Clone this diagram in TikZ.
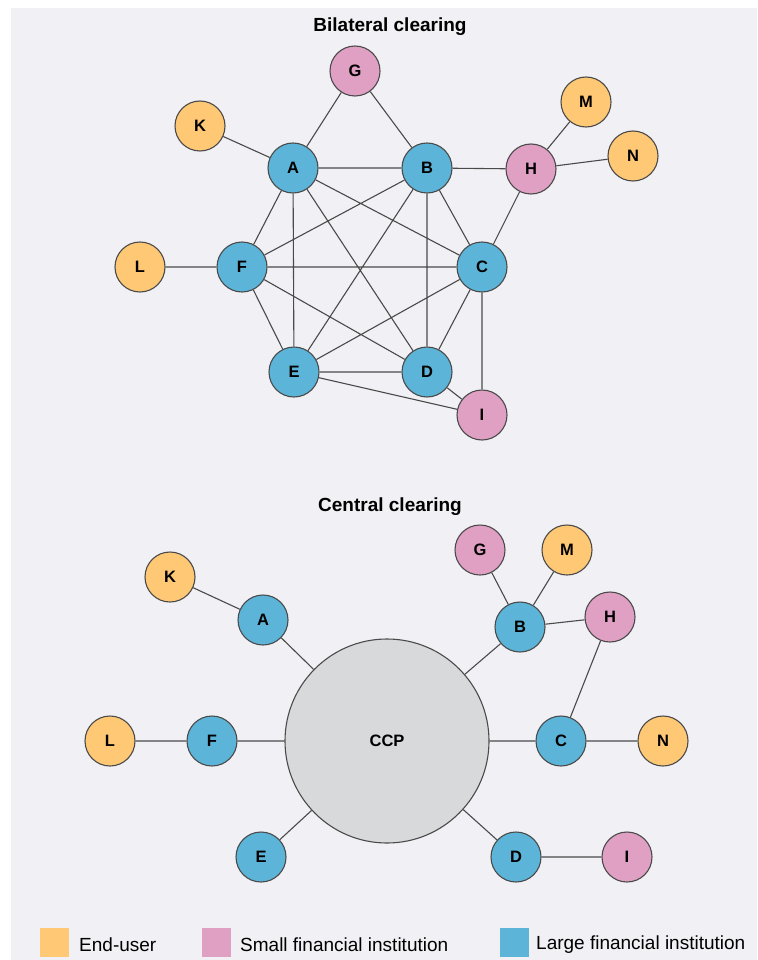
\documentclass[tikz,border=0pt]{standalone}
\usepackage{fontspec}
\setmainfont{Liberation Sans}
\definecolor{bgc}{HTML}{F1F0F5}
\definecolor{euc}{HTML}{FFC874}
\definecolor{sfc}{HTML}{E0A0C3}
\definecolor{lfc}{HTML}{5CB5D8}
\definecolor{ccpc}{HTML}{D7D9DA}
\definecolor{linec}{HTML}{4A4A4A}
\tikzset{
  nd/.style={circle, draw=linec, line width=1.1pt, minimum size=50pt, inner sep=0pt,
    font=\fontsize{16.5}{17}\selectfont\bfseries},
  eu/.style={nd, fill=euc},
  sfi/.style={nd, fill=sfc},
  lfi/.style={nd, fill=lfc},
  ccpnode/.style={nd, fill=ccpc, minimum size=204pt},
  edge/.style={draw=linec, line width=1.1pt},
  ttl/.style={font=\fontsize{19}{19}\selectfont\bfseries},
  legtxt/.style={font=\fontsize{19}{19}\selectfont, anchor=west, inner sep=0pt},
  legbox/.style={minimum size=29pt, inner sep=0pt, draw=none}
}
\begin{document}
\begin{tikzpicture}[x=1pt,y=-1pt]
\fill[white] (0,0) rectangle (757,960);
\useasboundingbox (0,0) rectangle (757,960);
\fill[bgc] (11,8) rectangle (757,960);

% ---------- Bilateral clearing ----------
\node[ttl] (t1) at (390,27) {Bilateral clearing};
\node[sfi] (G1) at (355,71) {G};
\node[eu]  (K1) at (200,126) {K};
\node[lfi] (A1) at (293,168) {A};
\node[lfi] (B1) at (427,168) {B};
\node[sfi] (H1) at (531,169) {H};
\node[eu]  (M1) at (586,102) {M};
\node[eu]  (N1) at (633,156) {N};
\node[eu]  (L1) at (140,267) {L};
\node[lfi] (F1) at (242,267) {F};
\node[lfi] (C1) at (482,267) {C};
\node[lfi] (E1) at (294,372) {E};
\node[lfi] (D1) at (427,372) {D};
\node[sfi] (I1) at (482,415) {I};

\path[edge]
  (G1) -- (A1)  (G1) -- (B1)  (K1) -- (A1)  (A1) -- (B1)
  (B1) -- (H1)  (H1) -- (M1)  (H1) -- (N1)  (H1) -- (C1)
  (L1) -- (F1)
  (A1) -- (F1)  (A1) -- (E1)  (A1) -- (D1)  (A1) -- (C1)
  (B1) -- (F1)  (B1) -- (E1)  (B1) -- (D1)  (B1) -- (C1)
  (F1) -- (C1)  (F1) -- (E1)  (F1) -- (D1)
  (C1) -- (E1)  (C1) -- (D1)  (C1) -- (I1)
  (E1) -- (D1)  (E1) -- (I1)  (D1) -- (I1);

% ---------- Central clearing ----------
\node[ttl] (t2) at (390,507) {Central clearing};
\node[ccpnode] (CCP) at (387,741) {CCP};
\node[eu]  (K2) at (170,577) {K};
\node[lfi] (A2) at (263,620) {A};
\node[sfi] (G2) at (480,550) {G};
\node[eu]  (M2) at (567,550) {M};
\node[lfi] (B2) at (520,627) {B};
\node[sfi] (H2) at (610,617) {H};
\node[eu]  (L2) at (110,741) {L};
\node[lfi] (F2) at (212,741) {F};
\node[lfi] (C2) at (561,741) {C};
\node[eu]  (N2) at (663,741) {N};
\node[lfi] (E2) at (261,857) {E};
\node[lfi] (D2) at (516,857) {D};
\node[sfi] (I2) at (627,857) {I};

\path[edge]
  (K2) -- (A2)  (A2) -- (CCP)  (G2) -- (B2)  (M2) -- (B2)
  (B2) -- (H2)  (B2) -- (CCP)  (H2) -- (C2)
  (L2) -- (F2)  (F2) -- (CCP)  (CCP) -- (C2)  (C2) -- (N2)
  (CCP) -- (E2)  (CCP) -- (D2)  (D2) -- (I2);

% ---------- Legend ----------
\node[legbox, fill=euc] (lg1) at (54.5,942) {};
\node[legtxt] (lt1) at (79,945) {End-user};
\node[legbox, fill=sfc] (lg2) at (216.5,942) {};
\node[legtxt] (lt2) at (240,945) {Small financial institution};
\node[legbox, fill=lfc] (lg3) at (514.5,942) {};
\node[legtxt] (lt3) at (536,945) {Large financial institution};
\end{tikzpicture}
\end{document}
